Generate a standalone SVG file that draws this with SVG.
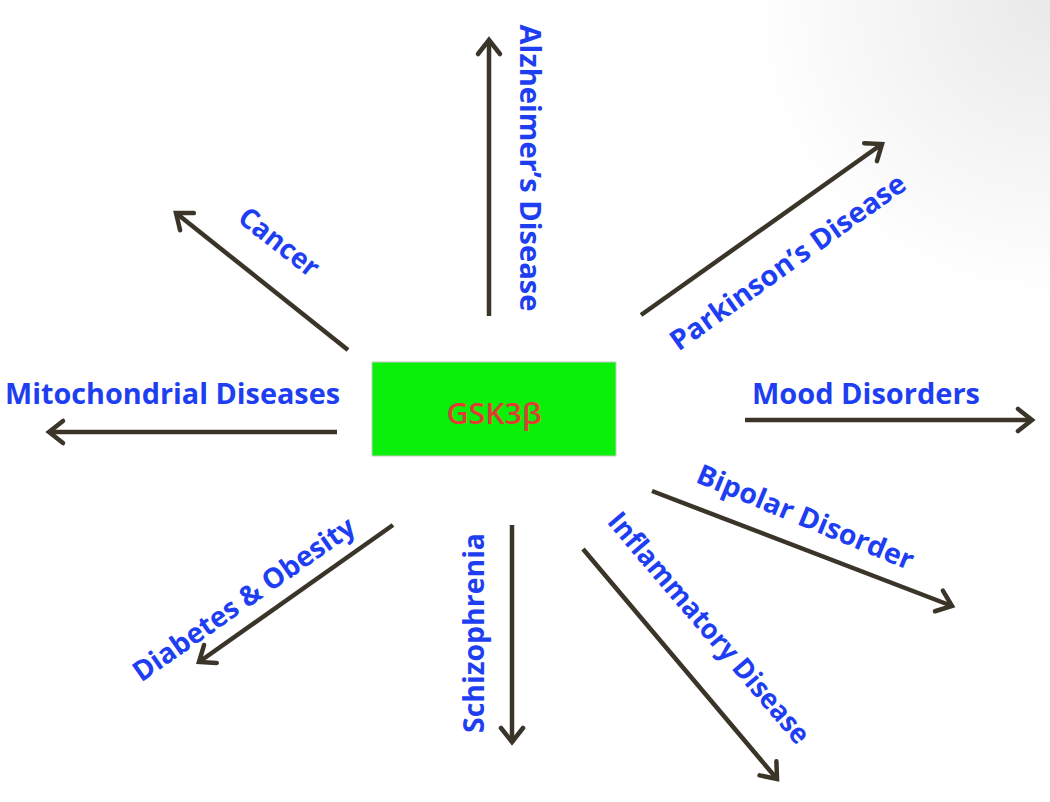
<svg xmlns="http://www.w3.org/2000/svg" width="1050" height="802" viewBox="0 0 1050 802">
<style>
.lbl{font-family:"Open Sans",Lato,"Liberation Sans",sans-serif;font-weight:bold;font-size:28px;fill:#1e3ef2;}
.ctr{text-anchor:middle;dominant-baseline:central;}
.arr{stroke:#3a3429;stroke-width:4.5;fill:none;marker-end:url(#head);}
</style>
<defs>
<marker id="head" markerUnits="userSpaceOnUse" markerWidth="30" markerHeight="30" viewBox="-20 -15 30 30" refX="0" refY="0" orient="auto" overflow="visible">
<path d="M-14,-11 L0,0 L-14,11" fill="none" stroke="#3a3429" stroke-width="4.5" stroke-linejoin="miter" stroke-linecap="round"/>
</marker>
<radialGradient id="bg" cx="1050" cy="0" r="300" gradientUnits="userSpaceOnUse">
<stop offset="0" stop-color="#e9e9e9"/>
<stop offset="1" stop-color="#ffffff"/>
</radialGradient>
</defs>
<rect width="1050" height="802" fill="url(#bg)"/>
<g id="connectors">
<line class="arr" x1="489" y1="316" x2="489" y2="40"/>
<line class="arr" x1="641" y1="315" x2="882" y2="144"/>
<line class="arr" x1="348" y1="350" x2="176" y2="213"/>
<line class="arr" x1="337" y1="432" x2="49" y2="432"/>
<line class="arr" x1="745" y1="420" x2="1032" y2="420"/>
<line class="arr" x1="652" y1="491" x2="952" y2="606"/>
<line class="arr" x1="583" y1="549" x2="777" y2="779"/>
<line class="arr" x1="512" y1="525" x2="512" y2="742"/>
<line class="arr" x1="393" y1="525" x2="199" y2="662"/>
</g>
<g id="gsk3b">
<rect x="372" y="362" width="244" height="94" fill="#0bf00b" stroke="#c8c8c8" stroke-width="1"/>
<text x="494" y="412" class="ctr" font-family="'Open Sans',Lato,'Liberation Sans',sans-serif" font-size="29" font-weight="600" fill="#e23b34" textLength="95" lengthAdjust="spacingAndGlyphs">GSK3β</text>
</g>
<g id="alzheimers">
<text class="lbl ctr" transform="translate(531,168) rotate(90)" textLength="287" lengthAdjust="spacingAndGlyphs">Alzheimer’s Disease</text>
</g>
<g id="parkinsons">
<text class="lbl ctr" transform="translate(787,261) rotate(-35.5)" textLength="282" lengthAdjust="spacingAndGlyphs">Parkinson’s Disease</text>
</g>
<g id="cancer">
<text class="lbl ctr" transform="translate(280,241) rotate(38)" textLength="94" lengthAdjust="spacingAndGlyphs">Cancer</text>
</g>
<g id="mitochondrial">
<text class="lbl" x="5" y="404" textLength="335" lengthAdjust="spacingAndGlyphs">Mitochondrial Diseases</text>
</g>
<g id="mood">
<text class="lbl" x="752" y="404" textLength="228" lengthAdjust="spacingAndGlyphs">Mood Disorders</text>
</g>
<g id="bipolar">
<text class="lbl ctr" transform="translate(806,516) rotate(22.5)" textLength="232" lengthAdjust="spacingAndGlyphs">Bipolar Disorder</text>
</g>
<g id="inflammatory">
<text class="lbl ctr" transform="translate(710,627) rotate(49.5)" textLength="294" lengthAdjust="spacingAndGlyphs">Inflammatory Disease</text>
</g>
<g id="schizophrenia">
<text class="lbl ctr" transform="translate(473,633) rotate(-90)" textLength="200" lengthAdjust="spacingAndGlyphs">Schizophrenia</text>
</g>
<g id="diabetes">
<text class="lbl ctr" transform="translate(243,598) rotate(-35)" textLength="264" lengthAdjust="spacingAndGlyphs">Diabetes &amp; Obesity</text>
</g>
</svg>
